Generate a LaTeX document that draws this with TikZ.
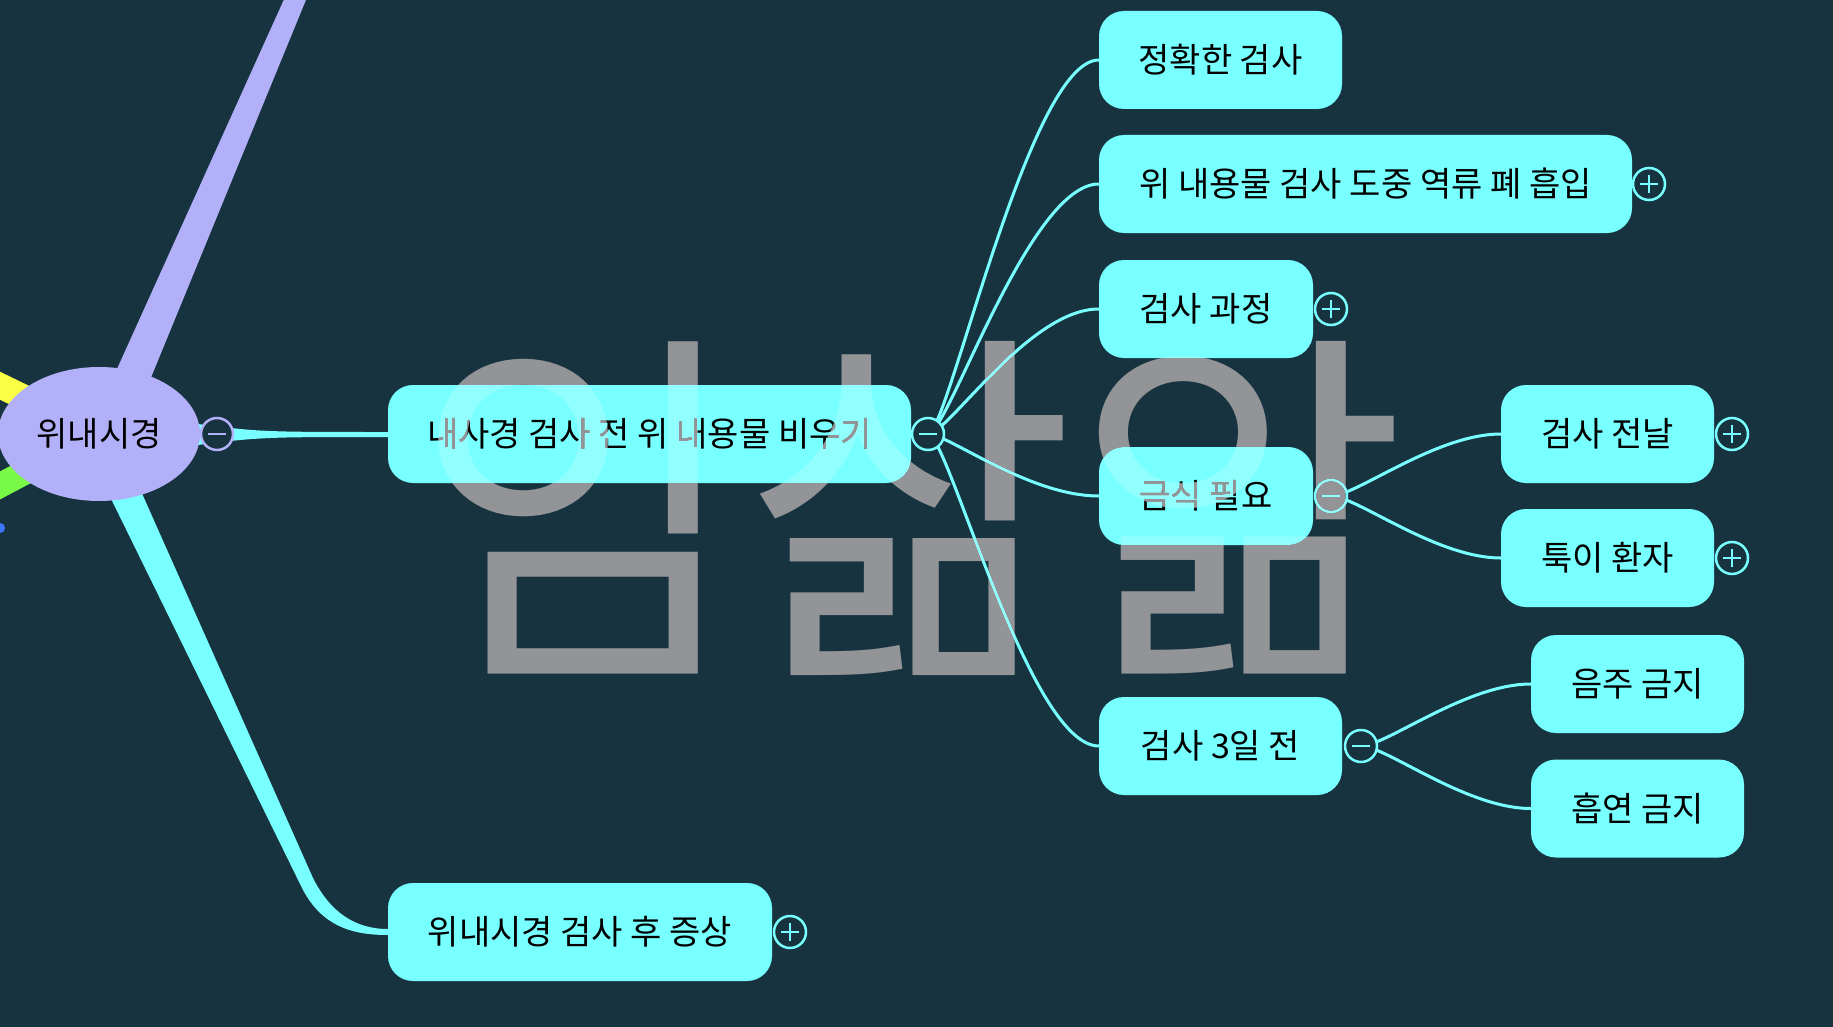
\documentclass[tikz,border=0pt]{standalone}
\usepackage{fontspec}
\setmainfont{Noto Sans CJK KR}
\usetikzlibrary{shapes.geometric,calc}
\definecolor{bg}{RGB}{23,51,64}
\definecolor{cy}{RGB}{120,255,255}
\definecolor{pu}{RGB}{178,176,248}
\definecolor{ye}{RGB}{250,255,70}
\definecolor{gr}{RGB}{120,250,70}
\definecolor{bl}{RGB}{60,120,250}
\definecolor{wm}{RGB}{146,148,151}
\begin{document}
\begin{tikzpicture}[x=1pt,y=-1pt,
  box/.style={fill=cy, rounded corners=25pt, minimum height=98pt, inner sep=0pt, text=black, font=\fontsize{34}{40}\selectfont},
  tog/.style={circle, draw=#1, line width=2.5pt, fill=bg, minimum size=32pt, inner sep=0pt},
  togp/.style={tog=cy, path picture={\draw[cy, line width=2.5pt] ([xshift=-9pt]path picture bounding box.center) -- ([xshift=9pt]path picture bounding box.center) ([yshift=-9pt]path picture bounding box.center) -- ([yshift=9pt]path picture bounding box.center);}},
  togm/.style={tog=#1, path picture={\draw[#1, line width=2.5pt] ([xshift=-9pt]path picture bounding box.center) -- ([xshift=9pt]path picture bounding box.center);}},
  link/.style={draw=cy, line width=3pt},
]
\useasboundingbox (0,0) rectangle (1833,1027);
\clip (0,0) rectangle (1833,1027);
\fill[bg] (0,0) rectangle (1833,1027);

% branches from off-picture nodes
\fill[ye] (-20,362) -- (120,430) -- (120,458) -- (-20,390) -- cycle;
\fill[gr] (-20,482) -- (120,408) -- (120,436) -- (-20,510) -- cycle;
\fill[bl] (0,528) circle (5);

% coordinates of toggles
\coordinate (k0) at (217,434);
\coordinate (k1) at (928,434);
\coordinate (k2) at (790,932);
\coordinate (k4) at (1649,184);
\coordinate (k5) at (1331,309);
\coordinate (k6) at (1331,496);
\coordinate (k7) at (1361,746);
\coordinate (k8) at (1732,434);
\coordinate (k9) at (1732,558);

% boxes
\node[box, minimum width=523pt] (b1) at (649.5,434) {내사경 검사 전 위 내용물 비우기};
\node[box, minimum width=384pt] (b2) at (580,932) {위내시경 검사 후 증상};
\node[box, minimum width=243pt] (b3) at (1220.5,60) {정확한 검사};
\node[box, minimum width=533pt] (b4) at (1365.5,184) {위 내용물 검사 도중 역류 폐 흡입};
\node[box, minimum width=214pt] (b5) at (1206,309) {검사 과정};
\node[box, minimum width=214pt] (b6) at (1206,496) {금식 필요};
\node[box, minimum width=243pt] (b7) at (1220.5,746) {검사 3일 전};
\node[box, minimum width=213pt] (b8) at (1607.5,434) {검사 전날};
\node[box, minimum width=213pt] (b9) at (1607.5,558) {툭이 환자};
\node[box, minimum width=213pt] (b10) at (1637.5,684) {음주 금지};
\node[box, minimum width=213pt] (b11) at (1637.5,808.5) {흡연 금지};

% thick tapered branches
\fill[pu] (112,380) -- (286,-5) -- (308,-5) -- (150,380) -- cycle;
\fill[cy] (93,462) -- (303,890) .. controls (322,925) and (350,935) .. (b2.west |- 0,935)
  -- (b2.west |- 0,929) .. controls (355,929) and (330,912) .. (313,878) -- (128,462) -- cycle;
\fill[cy] (190,423) .. controls (260,432) .. (b1.west |- 0,432) -- (b1.west |- 0,437)
  .. controls (260,437) .. (190,446) -- cycle;

\node[ellipse, fill=pu, minimum width=202pt, minimum height=134pt, inner sep=0pt, text=black, font=\fontsize{34}{40}\selectfont] (oval) at (99,434) {위내시경};

% thin connectors
\foreach \t in {b3,b4,b5,b6,b7}
  \draw[link] (k1) .. controls +(20,0) and +(-70,0) .. (\t.west);
\foreach \t in {b8,b9}
  \draw[link] (k6) .. controls +(25,0) and +(-65,0) .. (\t.west);
\foreach \t in {b10,b11}
  \draw[link] (k7) .. controls +(25,0) and +(-65,0) .. (\t.west);

% toggles
\node[togm=pu] (c0) at (k0) {};
\node[togm=cy] (c1) at (k1) {};
\node[togp] (c2) at (k2) {};
\node[togp] (c4) at (k4) {};
\node[togp] (c5) at (k5) {};
\node[togm=cy] (c6) at (k6) {};
\node[togm=cy] (c7) at (k7) {};
\node[togp] (c8) at (k8) {};
\node[togp] (c9) at (k9) {};

% watermark
\node[inner sep=0pt, text=wm, blend mode=lighten, font=\fontsize{360}{360}\selectfont] (wmark) at (910,508) {\scalebox{1}[1.035]{임삶앎}};
\end{tikzpicture}
\end{document}
